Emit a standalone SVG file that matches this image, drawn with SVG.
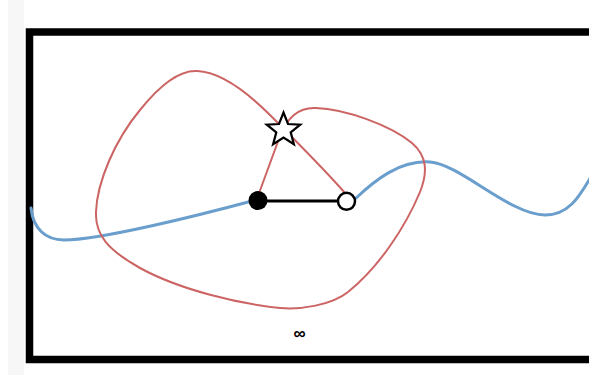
<svg xmlns="http://www.w3.org/2000/svg" width="589" height="375" viewBox="0 0 589 375">
<style>
.frame{fill:none;stroke:#000;stroke-width:7.5}
.blue{fill:none;stroke:#6a9ecd;stroke-width:3;stroke-linecap:round}
.red{fill:none;stroke:#cc6464;stroke-width:2}
.edge{stroke:#000;stroke-width:3}
.lbl{font-family:"Liberation Sans",sans-serif;font-size:17px;font-weight:bold;fill:#000}
</style>
<rect x="0" y="0" width="589" height="375" fill="#fff"/>
<rect x="8" y="0" width="16" height="375" fill="#f7f7f7"/>
<rect class="frame" x="29.5" y="32" width="600" height="327.5"/>
<g id="curves">
<path class="blue" d="M31,208 C33,228 45,240 64,240 C100,240 200,215 252,201"/>
<path class="blue" d="M355,199 C375,180 400,160 430,162 C460,164 510,215 545,215 C570,215 580,195 592,175"/>
<path class="red" d="M258,196 L280,136 C287,118 298,107 316,108 C345,109 390,125 412,143 C427,156 428,172 420,192 C405,228 378,268 348,292 C332,305 300,310 280,308 C240,304 180,290 140,268 C108,250 95,235 96,212 C97,182 115,140 140,110 C160,85 180,70 197,71 C220,72 245,90 270,115 C300,145 325,170 345,193"/>
</g>
<g id="connectors">
<line class="edge" x1="258" y1="201" x2="346" y2="201"/>
</g>
<g id="node-filled">
<circle cx="258" cy="200.5" r="9.5" fill="#000"/>
</g>
<g id="node-open">
<circle cx="346.5" cy="201.3" r="8.5" fill="#fff" stroke="#000" stroke-width="2.5"/>
</g>
<g id="star">
<polygon points="283.5,112.5 288,124 300.2,124.6 290.7,132.3 293.9,144.2 283.5,137.5 273.1,144.2 276.3,132.3 266.8,124.6 279,124" fill="#fff" stroke="#000" stroke-width="2.2" stroke-linejoin="miter"/>
</g>
<g id="label">
<text class="lbl" x="299.5" y="339" text-anchor="middle">∞</text>
</g>
</svg>
